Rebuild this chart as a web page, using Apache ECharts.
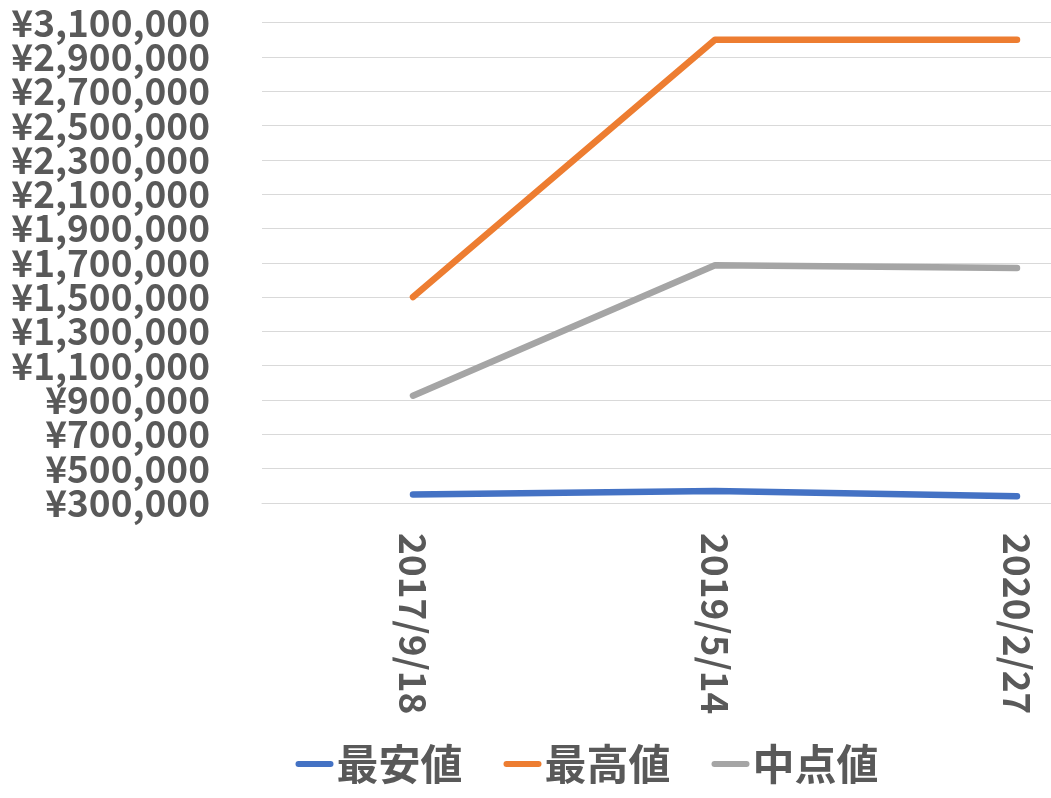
<!DOCTYPE html>
<html><head><meta charset="utf-8">
<script src="https://cdn.jsdelivr.net/npm/echarts@6/dist/echarts.min.js"></script>
<style>html,body{margin:0;padding:0;overflow:hidden;background:#fff}#c{width:1174px;height:798px}</style>
</head><body><div id="c"></div>
<script>
const categories = ['2017/9/18', '2019/5/14', '2020/2/27'];
const seriesNames = ['最安値', '最高値', '中点値'];
const minValues = [350000, 370000, 340000];
const maxValues = [1500000, 3000000, 3000000];
const midValues = [925000, 1685000, 1670000];
const yMin = 300000, yMax = 3100000, yStep = 200000;
const colors = ['#4472C4', '#ED7D31', '#A5A5A5'];
const font = '"Noto Sans CJK JP", "Noto Sans", sans-serif';
const chart = echarts.init(document.getElementById('c'), null, {renderer: 'canvas'});
const mk = (name, data, color) => ({
  name, type: 'line', data, symbol: 'none', color,
  lineStyle: {width: 6.5, color, cap: 'round', join: 'round'}
});
const fmt = v => '¥' + v.toLocaleString('en-US');
const labelStyle = {margin: 52, fontSize: 37, fontWeight: 'bold', color: '#595959', fontFamily: font, hideOverlap: false};
chart.setOption({
  animation: false,
  color: colors,
  grid: {left: 262, right: 6, top: 22.5, bottom: 295, containLabel: false},
  legend: {
    bottom: 8, left: 'center', itemGap: 41, itemWidth: 38, itemHeight: 6,
    icon: 'path://M3,0 L35,0 A3,3 0 0 1 35,6 L3,6 A3,3 0 0 1 3,0 Z',
    textStyle: {fontSize: 42, fontWeight: 'bold', color: '#595959', fontFamily: font, padding: [0, 0, 0, -2]},
    data: seriesNames
  },
  xAxis: {
    type: 'category', data: categories, boundaryGap: true,
    axisLine: {show: true, lineStyle: {color: '#D9D9D9', width: 1}},
    axisTick: {show: false},
    axisLabel: {rotate: -90, margin: 30, fontSize: 37, fontWeight: 'bold', color: '#595959', fontFamily: font}
  },
  yAxis: [{
    type: 'value', min: yMin, max: yMax, interval: yStep, position: 'left',
    axisLine: {show: false}, axisTick: {show: false},
    splitLine: {lineStyle: {color: '#D9D9D9', width: 1}},
    axisLabel: Object.assign({showMinLabel: false, showMaxLabel: false, formatter: fmt}, labelStyle)
  }, {
    type: 'value', min: yMin, max: yMax, interval: yStep, position: 'left', offset: 0,
    axisLine: {show: false}, axisTick: {show: false}, splitLine: {show: false},
    axisLabel: Object.assign({showMinLabel: true, showMaxLabel: true,
      formatter: v => (v === yMin || v === yMax) ? fmt(v) : ''}, labelStyle)
  }],
  series: [
    mk(seriesNames[0], minValues, colors[0]),
    mk(seriesNames[1], maxValues, colors[1]),
    mk(seriesNames[2], midValues, colors[2])
  ]
});
</script></body></html>
